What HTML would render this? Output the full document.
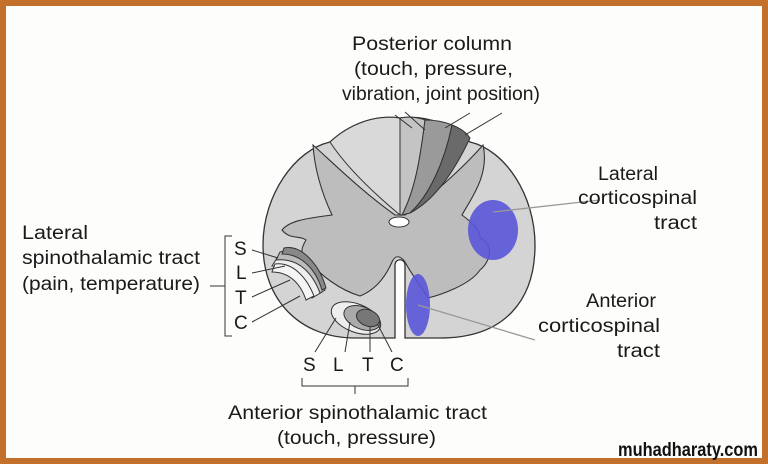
<!DOCTYPE html>
<html><head><style>
html,body{margin:0;padding:0;}
body{width:768px;height:464px;overflow:hidden;background:#c2702c;}
#p{position:absolute;left:6px;top:6px;width:756px;height:452px;background:#fdfdfb;}
svg{position:absolute;left:0;top:0;}
text{font-family:"Liberation Sans",sans-serif;font-size:19px;fill:#1a1a1a;}
</style></head><body>
<div id="p"></div>
<svg width="768" height="464" viewBox="0 0 768 464">
<path d="M400 118 C430 114 455 128 470 142 C505 150 535 195 535 245 C535 300 505 338 440 338 L405 338 L405 265 C405 258 395 258 395 265 L395 338 L355 338 C300 338 263 300 263 245 C263 195 295 150 330 142 C345 128 370 114 400 118 Z" fill="#d4d4d4" stroke="#333" stroke-width="1.3"/>
<path d="M313 145 C330 160 360 190 395 215 L405 215 C440 190 470 160 483 145 C490 175 470 200 462 215 C475 225 480 230 480 238 C495 245 490 262 480 270 C470 285 440 295 428 298 C420 285 412 275 405 262 C400 255 395 255 392 262 C385 278 375 290 360 296 C340 290 320 275 310 262 C300 255 300 250 306 240 C300 235 290 240 282 230 C290 220 310 218 332 215 C325 200 315 175 313 145 Z" fill="#bdbdbd" stroke="#333" stroke-width="1.1"/>
<path d="M400 118 L400 215 C370 190 345 165 330 142 C345 128 370 114 400 118 Z" fill="#d9d9d9" stroke="#333" stroke-width="1"/>
<path d="M400 118 C410 116 420 118 425 120 C420 160 415 190 402 215 L400 215 Z" fill="#c4c4c4" stroke="#333" stroke-width="1"/>
<path d="M425 120 C435 120 445 122 452 125 C445 160 430 195 410 213 L402 215 C415 190 420 160 425 120 Z" fill="#9a9a9a" stroke="#333" stroke-width="1"/>
<path d="M452 125 C460 128 466 132 470 138 C455 170 435 200 410 213 C430 195 445 160 452 125 Z" fill="#6a6a6a" stroke="#333" stroke-width="1"/>
<ellipse cx="399" cy="222" rx="10" ry="5" fill="#fff" stroke="#333"/>
<g stroke="#333" stroke-width="1">
<path d="M277 258 C295 250 315 270 322 292 L312 298 C305 278 292 266 272 266 Z" fill="#eee"/>
<path d="M280 252 C298 246 318 268 325 290 L320 293 C312 272 298 258 276 260 Z" fill="#bbb"/>
<path d="M284 248 C302 244 320 266 326 288 L322 290 C316 270 302 254 282 254 Z" fill="#888"/>
<path d="M275 264 C292 262 306 276 314 296 L306 300 C300 282 288 272 272 272 Z" fill="#f5f5f5"/>
</g>
<ellipse cx="356" cy="318" rx="26" ry="14" transform="rotate(22 356 318)" fill="#eee" stroke="#333"/>
<ellipse cx="362" cy="318" rx="19" ry="11" transform="rotate(22 362 318)" fill="#aaa" stroke="#333"/>
<ellipse cx="368" cy="318" rx="12" ry="8" transform="rotate(22 368 318)" fill="#777" stroke="#333"/>
<ellipse cx="493" cy="230" rx="25" ry="30" fill="#5a55d8" opacity="0.9"/>
<ellipse cx="418" cy="305" rx="12" ry="31" fill="#5a55d8" opacity="0.9"/>
<g stroke="#333" stroke-width="1" fill="none">
<line x1="395" y1="115" x2="412" y2="128"/><line x1="405" y1="112" x2="425" y2="130"/>
<line x1="470" y1="113" x2="445" y2="128"/><line x1="502" y1="113" x2="465" y2="135"/>
<line x1="252" y1="250" x2="278" y2="258"/><line x1="252" y1="273" x2="285" y2="266"/>
<line x1="252" y1="297" x2="290" y2="280"/><line x1="252" y1="322" x2="300" y2="296"/>
<path d="M232 236 L225 236 L225 336 L232 336"/><line x1="210" y1="286" x2="225" y2="286"/>
<line x1="315" y1="352" x2="336" y2="318"/><line x1="345" y1="352" x2="350" y2="322"/>
<line x1="370" y1="352" x2="370" y2="326"/><line x1="392" y1="352" x2="378" y2="325"/>
<path d="M302 378 L302 386 L408 386 L408 378"/><line x1="355" y1="386" x2="355" y2="394"/>
</g>
<g stroke="#999" stroke-width="1.3" fill="none">
<line x1="493" y1="212" x2="600" y2="200"/><line x1="418" y1="305" x2="535" y2="340"/>
</g>
<g lengthAdjust="spacingAndGlyphs">
<text x="352" y="50" textLength="160" lengthAdjust="spacingAndGlyphs">Posterior column</text>
<text x="354" y="75" textLength="159" lengthAdjust="spacingAndGlyphs">(touch, pressure,</text>
<text x="342" y="100" textLength="198" lengthAdjust="spacingAndGlyphs">vibration, joint position)</text>
<text x="598" y="180" textLength="60" lengthAdjust="spacingAndGlyphs">Lateral</text>
<text x="578" y="204" textLength="119" lengthAdjust="spacingAndGlyphs">corticospinal</text>
<text x="654" y="229" textLength="43" lengthAdjust="spacingAndGlyphs">tract</text>
<text x="22" y="239" textLength="66" lengthAdjust="spacingAndGlyphs">Lateral</text>
<text x="22" y="264" textLength="178" lengthAdjust="spacingAndGlyphs">spinothalamic tract</text>
<text x="22" y="290" textLength="178" lengthAdjust="spacingAndGlyphs">(pain, temperature)</text>
<text x="234" y="255">S</text><text x="236" y="279">L</text><text x="235" y="304">T</text><text x="234" y="329">C</text>
<text x="586" y="307" textLength="70" lengthAdjust="spacingAndGlyphs">Anterior</text>
<text x="538" y="332" textLength="122" lengthAdjust="spacingAndGlyphs">corticospinal</text>
<text x="617" y="357" textLength="43" lengthAdjust="spacingAndGlyphs">tract</text>
<text x="303" y="371">S</text><text x="333" y="371">L</text><text x="362" y="371">T</text><text x="390" y="371">C</text>
<text x="228" y="419" textLength="259" lengthAdjust="spacingAndGlyphs">Anterior spinothalamic tract</text>
<text x="277" y="444" textLength="159" lengthAdjust="spacingAndGlyphs">(touch, pressure)</text>
<text x="618" y="456" textLength="140" lengthAdjust="spacingAndGlyphs" style="font-size:19px;font-weight:bold;fill:#111">muhadharaty.com</text>
</g>
</svg>
</body></html>
